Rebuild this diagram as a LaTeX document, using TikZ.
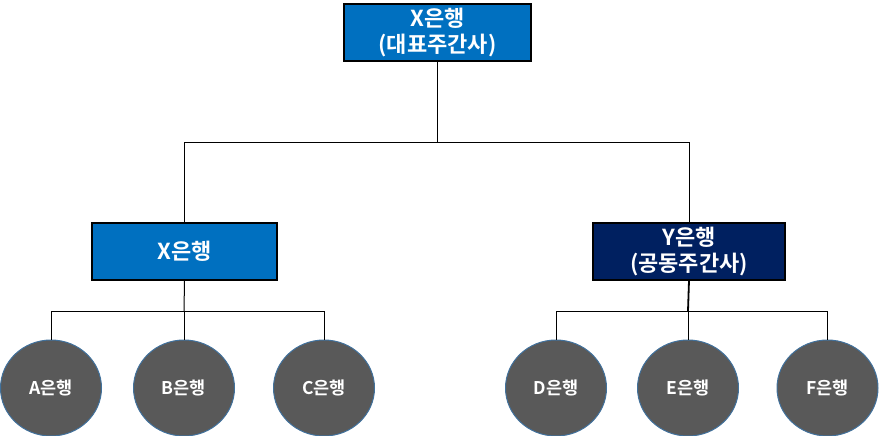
\documentclass[tikz,border=0pt]{standalone}
\usepackage{fontspec}
\newfontfamily\kr{Noto Sans CJK KR}[BoldFont={* Bold}]
\usetikzlibrary{shapes.geometric}
\definecolor{topblue}{HTML}{0070C0}
\definecolor{navy}{HTML}{002060}
\definecolor{circgray}{HTML}{595959}
\definecolor{circedge}{HTML}{41719C}
\tikzset{
  boxnode/.style={draw=black, line width=1.2pt, text=white, font=\kr\bfseries\fontsize{22}{26}\selectfont, align=center, inner sep=0pt},
  banknode/.style={ellipse, draw=circedge, line width=1pt, fill=circgray, text=white, font=\kr\bfseries\fontsize{17.5}{20}\selectfont, minimum width=101pt, minimum height=96pt, inner sep=0pt},
  link/.style={draw=black, line width=1pt}
}
\begin{document}
\begin{tikzpicture}[x=1pt,y=-1pt]
\useasboundingbox (0,0) rectangle (879,436);
\node[boxnode, fill=topblue, minimum width=187pt, minimum height=57pt] (top) at (437.5,32.5) {X은행\\(대표주간사)};
\node[boxnode, fill=topblue, minimum width=185pt, minimum height=57pt] (xb) at (184.5,251.5) {X은행};
\node[boxnode, fill=navy, minimum width=192pt, minimum height=57pt] (yb) at (689,251.5) {Y은행\\(공동주간사)};
\node[banknode] (a) at (51,388) {A은행};
\node[banknode] (b) at (184,388) {B은행};
\node[banknode] (c) at (324,388) {C은행};
\node[banknode] (d) at (556,388) {D은행};
\node[banknode] (e) at (688,388) {E은행};
\node[banknode] (f) at (827.5,388) {F은행};
\coordinate (j1) at (437,142);
\coordinate (j2) at (184,311);
\coordinate (j3) at (688,311);
\draw[link] (top.south -| j1) -- (j1);
\draw[link] (j1) -| (xb.north);
\draw[link] (j1) -| (yb.north);
\draw[link] (xb.south) -- (j2);
\draw[link, line width=1.8pt] (yb.south) -- (j3);
\draw[link] (j2) -| (a.north);
\draw[link] (j2) -- (b.north);
\draw[link] (j2) -| (c.north);
\draw[link] (j3) -| (d.north);
\draw[link] (j3) -- (e.north);
\draw[link] (j3) -| (f.north);
\end{tikzpicture}
\end{document}
